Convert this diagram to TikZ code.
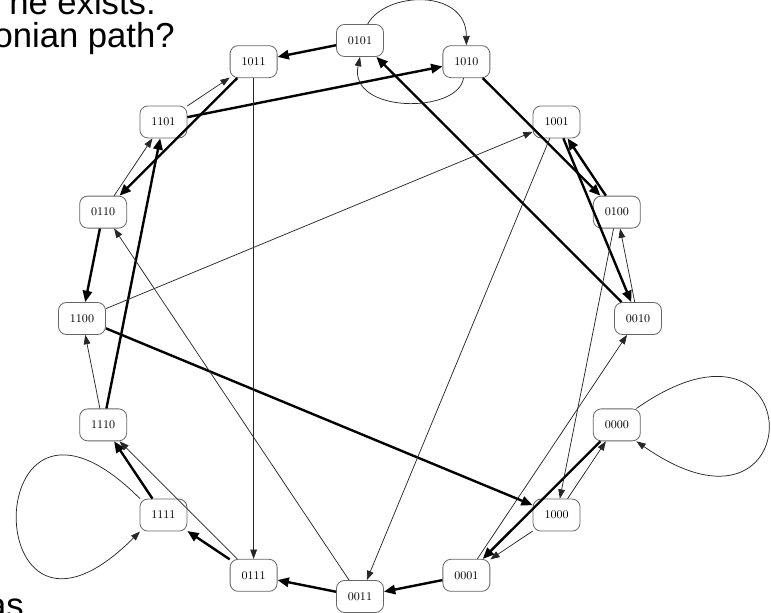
\documentclass[tikz,border=0pt]{standalone}
\usepackage{fontspec}
\newfontfamily\slidefont{Liberation Sans}
\usepackage{tikz}
\usetikzlibrary{arrows.meta}

\begin{document}
\begin{tikzpicture}[x=0.75pt, y=0.75pt,
    word/.style={draw=black!60, line width=0.6pt, rounded corners=6pt, minimum width=35.25pt, minimum height=24pt, inner sep=0pt, font=\fontsize{8.8}{10}\selectfont},
    thinedge/.style={draw=black!85, line width=0.55pt, -{Triangle[length=7pt, width=5pt]}},
    touredge/.style={line width=1.8pt, -{Triangle[length=8.5pt, width=7pt]}},
    slide/.style={font=\slidefont\fontsize{26}{30}\selectfont, inner sep=0pt, anchor=base east},
]
    \useasboundingbox (-360,-294.5) rectangle (411,318.5);
    \clip (-360,-294.5) rectangle (411,318.5);

    % Slide text, cut at the border
    \node[slide] (line1) at (-204,304) {ne exists.};
    \node[slide] (line2) at (-185,271) {onian path?};
    \node[slide] (tail) at (-336,-299) {as};

    % The 16 words on a circle
    \foreach \w/\a in {0010/0, 0100/22.5, 1001/45, 1010/67.5, 0101/90, 1011/112.5, 1101/135, 0110/157.5,
                       1100/180, 1110/202.5, 1111/225, 0111/247.5, 0011/270, 0001/292.5, 1000/315, 0000/337.5} {
        \node[word] (n\w) at (\a:278) {\w};
    }

    % Thick edges: the path through all words
    \foreach \s/\t in {0000/0001, 0001/0011, 0011/0111, 0111/1111, 1111/1110, 1110/1101, 1101/1010, 1010/0100,
                       0100/1001, 1001/0010, 0010/0101, 0101/1011, 1011/0110, 0110/1100, 1100/1000} {
        \draw[touredge] (n\s) -- (n\t);
    }

    % Thin edges
    \foreach \s/\t in {1000/0000, 1000/0001, 0001/0010, 0010/0100, 0011/0110, 0100/1000, 0110/1101, 0111/1110,
                       1001/0011, 1011/0111, 1100/1001, 1101/1011, 1110/1100} {
        \draw[thinedge] (n\s) -- (n\t);
    }

    % Curved edges between 0101 and 1010
    \draw[thinedge] (n0101.65) .. controls +(18,33) and +(0,57) .. (n1010.north);
    \draw[thinedge] (n1010.260) .. controls +(-5,-36) and +(-12,-57) .. (n0101.south);

    % Loops
    \draw[thinedge] (n0000.40) .. controls +(176,123) and +(176,-123) .. (n0000.-40);
    \draw[thinedge] (n1111.145) .. controls +(-164,164) and +(-164,-164) .. (n1111.215);
\end{tikzpicture}
\end{document}
